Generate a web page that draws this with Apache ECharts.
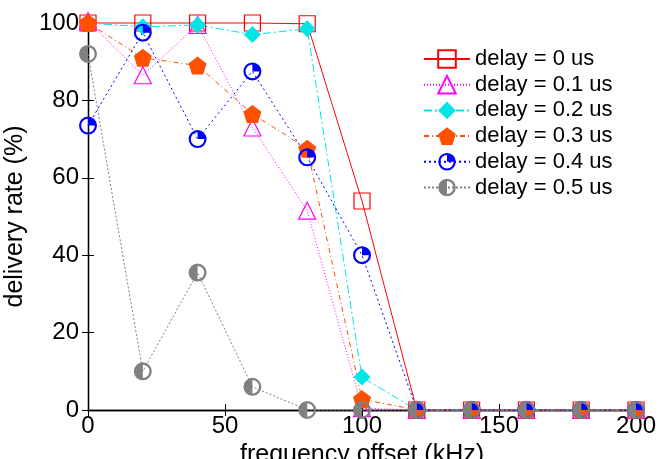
<!DOCTYPE html>
<html>
<head>
<meta charset="utf-8">
<script src="https://cdn.jsdelivr.net/npm/echarts@6/dist/echarts.min.js"></script>
<style>
  html, body { margin: 0; padding: 0; background: #fff; }
  #chart { width: 671px; height: 459px; }
</style>
</head>
<body>
<div id="chart"></div>
<script>
// frequency offset (kHz)
var offsets = [0, 20, 40, 60, 80, 100, 120, 140, 160, 180, 200];
var delayNames = ["delay = 0 us", "delay = 0.1 us", "delay = 0.2 us", "delay = 0.3 us", "delay = 0.4 us", "delay = 0.5 us"];
// delivery rate (%)
var delay0 = [100, 100, 100, 100, 99.8, 54, 0, 0, 0, 0, 0];
var delay01 = [100.5, 86.5, 99.5, 73, 51.5, 0.5, 0, 0, 0, 0, 0];
var delay02 = [100, 99, 99.5, 97, 98.5, 8.5, 0, 0, 0, 0, 0];
var delay03 = [100, 91, 89, 76.5, 67.5, 2.8, 0, 0, 0, 0, 0];
var delay04 = [73.5, 97.5, 70, 87.5, 65.3, 40, 0, 0, 0, 0, 0];
var delay05 = [92, 10, 35.5, 6, 0, 0, 0, 0, 0, 0, 0];
var xTicks = [0, 50, 100, 150, 200];
var yTicks = [0, 20, 40, 60, 80, 100];

var font = "'Liberation Sans', Arial, Helvetica, sans-serif";

// circle outline with top-right quarter filled
var quarterCircle = "path://M10,0 A10,10 0 1,1 10,20 A10,10 0 1,1 10,0 Z " +
  "M10,2.4 A7.6,7.6 0 1,0 10,17.6 A7.6,7.6 0 1,0 10,2.4 Z " +
  "M10,10 L10,2.4 A7.6,7.6 0 0,1 17.6,10 Z";
// circle outline with left half filled
var halfCircle = "path://M10,0 A10,10 0 1,1 10,20 A10,10 0 1,1 10,0 Z " +
  "M10,2.6 A7.4,7.4 0 1,0 10,17.4 A7.4,7.4 0 1,0 10,2.6 Z " +
  "M10,10 L10,17.4 A7.4,7.4 0 0,1 10,2.6 Z";
var pentagon = "path://M10,0 L19.5,6.9 L15.9,18.1 L4.1,18.1 L0.5,6.9 Z";

function pairs(ys) {
  return offsets.map(function (x, i) { return [x, ys[i]]; });
}

function line(name, ys, color, dash, symbol, size, hollow) {
  return {
    name: name,
    type: "line",
    data: pairs(ys),
    symbol: symbol,
    symbolSize: size,
    showAllSymbol: true,
    clip: false,
    color: color,
    lineStyle: { color: color, width: 1, type: dash },
    itemStyle: hollow
      ? { color: "rgba(0,0,0,0)", borderColor: color, borderWidth: 1.2 }
      : { color: color, borderWidth: 0 },
    emphasis: { disabled: true },
    animation: false
  };
}

var chart = echarts.init(document.getElementById("chart"));
chart.setOption({
  animation: false,
  textStyle: { fontFamily: font },
  grid: { left: 88, right: 35, top: 23, bottom: 49, containLabel: false, outerBoundsMode: "none" },
  legend: {
    orient: "vertical",
    left: 418,
    top: 43,
    itemWidth: 46,
    itemHeight: 22,
    itemGap: 3.7,
    data: delayNames,
    textStyle: { fontFamily: font, fontSize: 22, color: "#000" }
  },
  xAxis: [{
    type: "value",
    min: 0, max: 200, interval: 50,
    name: "frequency offset (kHz)",
    nameLocation: "middle",
    nameGap: 22,
    nameTextStyle: { fontFamily: font, fontSize: 25, color: "#000" },
    axisLine: { lineStyle: { color: "#000", width: 1.3 } },
    axisTick: { inside: true, length: 6, lineStyle: { color: "#000" } },
    axisLabel: { fontFamily: font, fontSize: 24, color: "#000", margin: 4,
      customValues: xTicks },
    splitLine: { show: false }
  }, {
    type: "value", position: "top",
    min: 0, max: 200, interval: 50,
    axisLine: { lineStyle: { color: "#000", width: 1.3 } },
    axisTick: { inside: true, length: 6, lineStyle: { color: "#000" } },
    axisLabel: { show: false },
    splitLine: { show: false }
  }],
  yAxis: [{
    type: "value",
    min: 0, max: 100, interval: 20,
    name: "delivery rate (%)",
    nameLocation: "middle",
    nameGap: 52,
    nameTextStyle: { fontFamily: font, fontSize: 25, color: "#000" },
    axisLine: { show: true, lineStyle: { color: "#000", width: 1.3 } },
    axisTick: { show: true, inside: true, length: 6, lineStyle: { color: "#000" } },
    axisLabel: { fontFamily: font, fontSize: 24, color: "#000", margin: 9,
      customValues: yTicks },
    splitLine: { show: false }
  }, {
    type: "value", position: "right",
    min: 0, max: 100, interval: 20,
    axisLine: { show: true, lineStyle: { color: "#000", width: 1.3 } },
    axisTick: { show: true, inside: true, length: 6, lineStyle: { color: "#000" } },
    axisLabel: { show: false },
    splitLine: { show: false }
  }],
  series: [
    line(delayNames[0], delay0, "#ff0000", "solid", "rect", 16, true),
    line(delayNames[1], delay01, "#ff00ff", [1, 2], "triangle", 17, true),
    line(delayNames[2], delay02, "#00e5e5", [8, 3, 2, 3], "diamond", 17, false),
    line(delayNames[3], delay03, "#ff5000", [5, 3, 1, 3], pentagon, 18, false),
    line(delayNames[4], delay04, "#0000ff", [2, 3], quarterCircle, 18, false),
    line(delayNames[5], delay05, "#808080", [2, 2], halfCircle, 18, false)
  ]
});
</script>
</body>
</html>
